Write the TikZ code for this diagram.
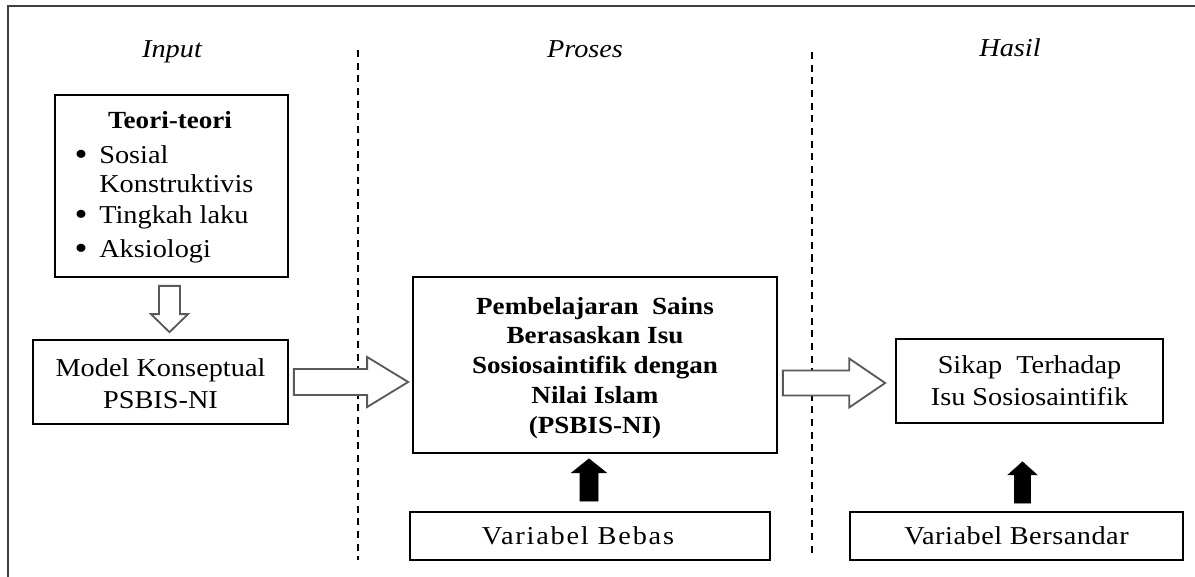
\documentclass[tikz,border=0pt]{standalone}
\usepackage{fontspec}
\setmainfont{Liberation Serif}[FakeStretch=1.1]
\usetikzlibrary{calc,fit}
\begin{document}
\begin{tikzpicture}[x=0.025cm,y=-0.025cm,
  box/.style={draw=black, line width=1.2pt, inner sep=0pt},
  txt/.style={font=\fontsize{18.3pt}{22.5pt}\selectfont, inner sep=0pt},
  btxt/.style={font=\fontsize{17.5pt}{21.3pt}\selectfont\bfseries, inner sep=0pt},
  hdr/.style={font=\fontsize{18.3pt}{22pt}\selectfont\itshape, inner sep=0pt},
  bul/.style={font=\fontsize{24pt}{24pt}\selectfont, inner sep=0pt},
  hollow/.style={draw=black!65, line width=1.3pt, fill=white, line join=miter},
  solidarrow/.style={fill=black, draw=black, line width=0.4pt},
  divider/.style={line width=1pt, dash pattern=on 5pt off 4pt},
  frame/.style={draw=black!75, line width=1.6pt}]
\useasboundingbox (0,0) rectangle (1195,577);
\fill[white] (0,0) rectangle (1195,577);
% outer frame
\draw[frame] (8,577) -- (8,6) -- (1195,6);
% dividers
\draw[divider] (358,50) -- (358,560);
\draw[divider] (812,52) -- (812,556);
% headers
\node[hdr, anchor=base] (hin) at (172,58) {Input};
\node[hdr, anchor=base] (hpr) at (585,58) {Proses};
\node[hdr, anchor=base] (hha) at (1010,57) {Hasil};
% Teori box
\node[box, fit={(55,95) (288,277)}] (teori) {};
\node[btxt, anchor=base] (tt) at (170,129) {Teori-teori};
\node[bul, anchor=base] (bu1) at (81,165) {\textbullet};
\node[txt, anchor=base west] (t1) at (99,163) {Sosial};
\node[txt, anchor=base west] (t1b) at (99,192) {Konstruktivis};
\node[bul, anchor=base] (bu2) at (81,225) {\textbullet};
\node[txt, anchor=base west] (t2) at (99,223) {Tingkah laku};
\node[bul, anchor=base] (bu3) at (81,259) {\textbullet};
\node[txt, anchor=base west] (t3) at (99,257) {Aksiologi};
% other boxes
\node[box, fit={(33,340) (288,424)}] (model) {};
\node[txt, align=center] (modeltxt) at ($(model.center)+(0,2)$) {Model Konseptual\\PSBIS-NI};
\node[box, fit={(413,277) (777,453)}] (middle) {};
\node[btxt, align=center] (middletxt) at ($(middle.center)+(0,3)$) {Pembelajaran\ \ Sains\\Berasaskan Isu\\Sosiosaintifik dengan\\Nilai Islam\\(PSBIS-NI)};
\node[box, fit={(410,512) (770,560)}] (bebas) {};
\node[txt] (bebastxt) at ($(bebas.center)+(-12,0)$) {\addfontfeature{LetterSpace=7}Variabel Bebas};
\node[box, fit={(896,339) (1163,423)}] (sikap) {};
\node[txt, align=center] (sikaptxt) at (sikap.center) {Sikap\ \ Terhadap\\Isu Sosiosaintifik};
\node[box, fit={(850,512) (1183,560)}] (bersandar) {};
\node[txt] (bersandartxt) at (bersandar.center) {\addfontfeature{LetterSpace=2}Variabel Bersandar};
% hollow down arrow
\coordinate (d0) at ($(teori.south)+(-2,8)$);
\coordinate (d1) at ($(model.north -| d0)+(0,-7)$);
\draw[hollow] ($(d0)+(-10.5,0)$) -- ($(d1)+(-10.5,-18)$) -- ($(d1)+(-18.5,-18)$) -- (d1)
  -- ($(d1)+(18.5,-18)$) -- ($(d1)+(10.5,-18)$) -- ($(d0)+(10.5,0)$) -- cycle;
% hollow right arrow 1
\coordinate (r0) at ($(model.east)+(5,0)$);
\coordinate (r1) at ($(middle.west |- r0)+(-4,0)$);
\draw[hollow] ($(r0)+(0,-13)$) -- ($(r1)+(-41,-13)$) -- ($(r1)+(-41,-25)$) -- (r1)
  -- ($(r1)+(-41,25)$) -- ($(r1)+(-41,13)$) -- ($(r0)+(0,13)$) -- cycle;
% hollow right arrow 2
\coordinate (s0) at ($(middle.east |- sikap.west)+(5,2)$);
\coordinate (s1) at ($(sikap.west)+(-10,2)$);
\draw[hollow] ($(s0)+(0,-12.5)$) -- ($(s1)+(-36,-12.5)$) -- ($(s1)+(-36,-24.5)$) -- (s1)
  -- ($(s1)+(-36,24.5)$) -- ($(s1)+(-36,12.5)$) -- ($(s0)+(0,12.5)$) -- cycle;
% solid up arrow 1
\coordinate (b0) at ($(bebas.north)+(-1,-10)$);
\coordinate (b1) at ($(middle.south -| b0)+(0,5)$);
\filldraw[solidarrow] ($(b0)+(-9,0)$) -- ($(b1)+(-9,14)$) -- ($(b1)+(-17.5,14)$) -- (b1)
  -- ($(b1)+(17.5,14)$) -- ($(b1)+(9,14)$) -- ($(b0)+(9,0)$) -- cycle;
% solid up arrow 2
\coordinate (c0) at ($(bersandar.north)+(6,-8)$);
\coordinate (c1) at ($(sikap.south -| c0)+(0,38)$);
\filldraw[solidarrow] ($(c0)+(-8,0)$) -- ($(c1)+(-8,13)$) -- ($(c1)+(-14.5,13)$) -- (c1)
  -- ($(c1)+(14.5,13)$) -- ($(c1)+(8,13)$) -- ($(c0)+(8,0)$) -- cycle;
\end{tikzpicture}
\end{document}
